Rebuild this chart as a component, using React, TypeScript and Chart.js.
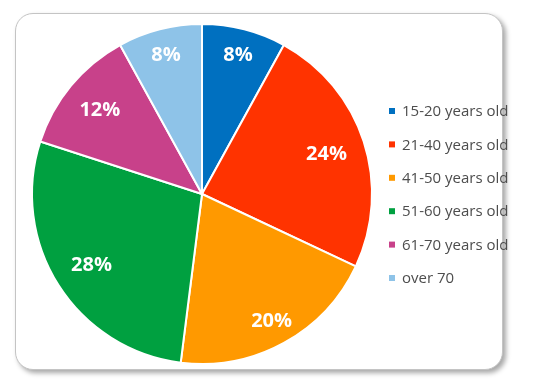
import React, { useEffect, useRef } from "react";
import { Chart, registerables } from "chart.js";

Chart.register(...registerables);

const categories = [
  "15-20 years old",
  "21-40 years old",
  "41-50 years old",
  "51-60 years old",
  "61-70 years old",
  "over 70",
];
const shares = [8, 24, 20, 28, 12, 8];
const sliceColors = ["#0070C0", "#FF3300", "#FF9900", "#00A040", "#C8418A", "#8EC3E8"];
const labelRadius = [0.85, 0.77, 0.85, 0.77, 0.78, 0.85];

const labelPlugin = {
  id: "sliceLabels",
  afterDatasetsDraw(chart: any) {
    const ctx = chart.ctx;
    const meta = chart.getDatasetMeta(0);
    ctx.save();
    ctx.fillStyle = "#ffffff";
    ctx.font = "bold 20px 'Open Sans'";
    ctx.textAlign = "center";
    ctx.textBaseline = "middle";
    meta.data.forEach((arc: any, i: number) => {
      const { x, y, startAngle, endAngle, outerRadius } = arc.getProps(
        ["x", "y", "startAngle", "endAngle", "outerRadius"],
        true
      );
      const mid = (startAngle + endAngle) / 2;
      const r = outerRadius * labelRadius[i];
      const v = chart.data.datasets[0].data[i];
      ctx.fillText(v + "%", x + Math.cos(mid) * r, y + Math.sin(mid) * r + 1);
    });
    ctx.restore();
  },
};

const legendPlugin = {
  id: "sideLegend",
  afterDraw(chart: any) {
    const ctx = chart.ctx;
    const labels = chart.data.labels as string[];
    const colors = chart.data.datasets[0].backgroundColor as string[];
    const x0 = 389;
    const y0 = 111;
    const step = 33.4;
    ctx.save();
    ctx.font = "15px 'Open Sans'";
    ctx.textBaseline = "middle";
    ctx.textAlign = "left";
    labels.forEach((lab, i) => {
      const y = y0 + i * step;
      ctx.fillStyle = colors[i];
      ctx.fillRect(x0, y - 3, 6, 6);
      ctx.fillStyle = "#4d4d4d";
      ctx.fillText(lab, x0 + 13, y + 1);
    });
    ctx.restore();
  },
};

export default function App() {
  const ref = useRef<HTMLCanvasElement | null>(null);
  useEffect(() => {
    if (!ref.current) return;
    const chart = new Chart(ref.current, {
      type: "pie",
      data: {
        labels: categories,
        datasets: [
          {
            data: shares,
            backgroundColor: sliceColors,
            borderColor: "#ffffff",
            borderWidth: 2,
          },
        ],
      },
      options: {
        animation: false,
        responsive: false,
        maintainAspectRatio: false,
        layout: { padding: { left: 31, top: 23, right: 177, bottom: 24 } },
        plugins: {
          legend: { display: false },
          tooltip: { enabled: false },
        },
      },
      plugins: [labelPlugin, legendPlugin],
    });
    return () => chart.destroy();
  }, []);

  return (
    <div style={{ position: "absolute", left: 0, top: 0, width: 550, height: 389, background: "#ffffff" }}>
      <div
        style={{
          position: "absolute",
          left: 15,
          top: 13,
          width: 488,
          height: 357,
          boxSizing: "border-box",
          border: "1.5px solid #c4c4c4",
          borderRadius: 18,
          boxShadow: "3px 3px 5px rgba(0,0,0,0.35)",
          background: "#ffffff",
        }}
      />
      <canvas ref={ref} width={550} height={389} style={{ position: "absolute", left: 0, top: 0 }} />
    </div>
  );
}
